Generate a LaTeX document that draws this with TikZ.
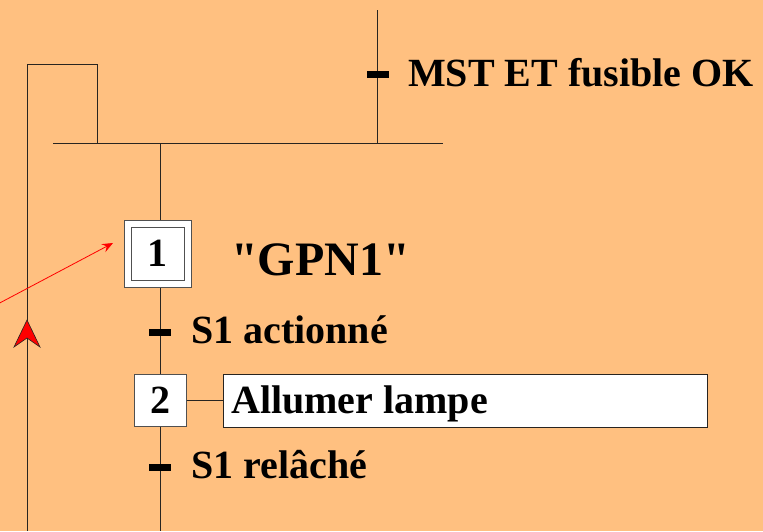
\documentclass[tikz,border=0pt]{standalone}
\usepackage{fontspec}
\setmainfont{Liberation Serif}[Ligatures=TeXOff]
\usetikzlibrary{arrows.meta}
\definecolor{bgorange}{RGB}{255,192,128}
\definecolor{linec}{RGB}{40,36,32}
\definecolor{boxc}{RGB}{80,80,80}
\tikzset{
  wire/.style={draw=linec, line width=1pt},
  tickbar/.style={fill=black, draw=none, minimum width=22pt, minimum height=7pt, inner sep=0pt},
  lbl/.style={anchor=base west, inner sep=0pt, font=\bfseries\fontsize{40}{40}\selectfont},
  stepbox/.style={draw=boxc, fill=white, line width=1pt, inner sep=0pt, font=\bfseries\fontsize{40}{40}\selectfont},
}
\begin{document}
\begin{tikzpicture}[x=1pt,y=-1pt]
\fill[bgorange] (0,0) rectangle (763,531);
\useasboundingbox (0,0) rectangle (763,531);
% coordinates
\coordinate (top) at (377,10);
\coordinate (rj) at (377,143);
\coordinate (hl) at (53,143);
\coordinate (hr) at (443,143);
\coordinate (jn) at (160,143);
\coordinate (lb) at (27,531);
\coordinate (lt) at (27,64);
\coordinate (lr) at (97,64);
\coordinate (lj) at (97,143);
\coordinate (bot) at (160,531);
\coordinate (rs) at (-6,306);
\coordinate (ra) at (113,243);
% wires
\draw[wire] (top) -- (rj);
\draw[wire] (hl) -- (hr);
\draw[wire] (lb) -- (lt) -- (lr) -- (lj);
% steps
\node[stepbox, minimum size=67pt] (s1o) at (157.5,253.5) {};
\node[stepbox, minimum size=53pt] (s1) at (157.5,253.5) {1};
\node[stepbox, minimum size=52pt] (s2) at (160,400.5) {2};
\node[draw=linec, fill=white, line width=1pt, minimum width=484pt, minimum height=53pt, inner sep=0pt] (act) at (465,400.5) {};
\draw[wire] (jn) -- (jn |- s1o.north);
\draw[wire] (s1o.south -| jn) -- (s2.north -| jn);
\draw[wire] (s2.south -| jn) -- (bot);
\draw[wire] (s2.east) -- (act.west);
% transitions
\node[tickbar] (t0) at (377.5,74) {};
\node[tickbar] (t1) at (160,332) {};
\node[tickbar] (t2) at (160,467) {};
% labels
\node[lbl] (l0) at (408,86) {MST ET fusible OK};
\node[lbl, font=\bfseries\fontsize{48}{48}\selectfont] (g) at (231,275) {"GPN1"};
\node[lbl] (l1) at (191,343) {S1 actionné};
\node[lbl] (l3) at (231,413) {Allumer lampe};
\node[lbl] (l2) at (191,478) {S1 relâché};
% red arrows
\draw[red, line width=0.8pt, -{Stealth[length=11pt,width=9pt,inset=4pt]}] (rs) -- (ra);
\draw[linec, fill=red, line width=0.6pt] (27,320) -- (14,347) -- (27,338) -- (40,347) -- cycle;
\end{tikzpicture}
\end{document}
